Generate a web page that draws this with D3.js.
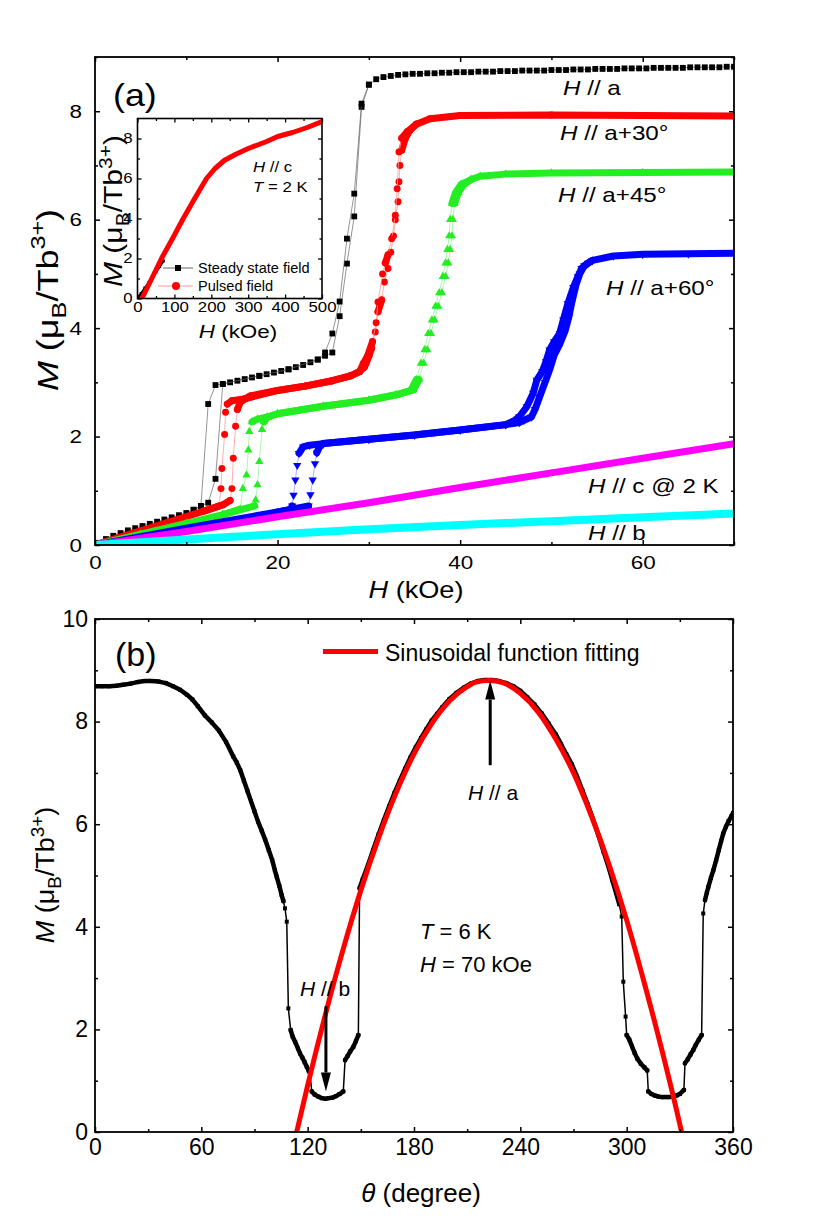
<!DOCTYPE html>
<html>
<head>
<meta charset="utf-8">
<script src="https://cdn.jsdelivr.net/npm/d3@7"></script>
<style>
  body { margin: 0; background: #fff; }
  svg { display: block; font-family: "Liberation Sans", Arial, Helvetica, sans-serif; }
</style>
</head>
<body>
<svg id="chart" width="830" height="1220"></svg>
<script>
// ---------- panel (a): M(H) sweeps, [H (kOe), M (muB/Tb3+)]
// H // a, field up (black squares)
const aUp = [
  [0,0],[0.4,0.04],[1.2,0.11],[2.0,0.17],[2.8,0.22],[3.6,0.27],[4.4,0.31],[5.2,0.35],[6.0,0.39],[6.8,0.43],
  [7.6,0.47],[8.4,0.51],[9.2,0.55],[10.0,0.59],[10.8,0.65],[11.6,0.72],[12.4,0.78],[13.2,1.22],[14.0,2.97],[14.8,3.0],
  [15.6,3.03],[16.4,3.06],[17.2,3.09],[18.0,3.12],[18.8,3.15],[19.6,3.18],[20.4,3.21],[21.2,3.24],[22.0,3.28],[22.8,3.32],
  [23.6,3.37],[24.4,3.42],[25.2,3.49],[26.0,3.55],[26.8,4.22],[27.6,5.19],[28.4,6.06],[29.2,8.08],[30.0,8.49],[30.8,8.59],
  [31.6,8.63],[32.4,8.65],[33.2,8.67],[34.0,8.68],[34.8,8.69],[35.6,8.69],[36.4,8.70],[37.2,8.70],[38.0,8.71],[38.8,8.71],
  [39.6,8.72],[40.4,8.72],[41.2,8.72],[42.0,8.73],[42.8,8.73],[43.6,8.73],[44.4,8.74],[45.2,8.74],[46.0,8.74],[46.8,8.75],
  [47.6,8.75],[48.4,8.75],[49.2,8.75],[50.0,8.76],[50.8,8.76],[51.6,8.76],[52.4,8.77],[53.2,8.77],[54.0,8.77],[54.8,8.78],
  [55.6,8.78],[56.4,8.78],[57.2,8.78],[58.0,8.79],[58.8,8.79],[59.6,8.79],[60.4,8.79],[61.2,8.80],[62.0,8.80],[62.8,8.80],
  [63.6,8.80],[64.4,8.80],[65.2,8.81],[66.0,8.81],[66.8,8.81],[67.6,8.81],[68.4,8.81],[69.2,8.82],[70.0,8.82]
];
// H // a, field down (only the hysteresis part differs)
const aDown = [
  [10.8,0.65],[11.6,0.72],[12.4,2.6],[13.2,2.95],[14.0,2.97],[18.0,3.12],[21.2,3.24],[24.4,3.42],[25.2,3.55],
  [26.0,3.9],[26.8,4.49],[27.6,5.65],[28.4,6.48],[29.2,8.14],[30.0,8.49]
];
// H // a+30 deg (red circles)
const a30Up = [
  [0,0],[4,0.21],[8,0.42],[12,0.63],[14.0,0.74],[14.8,0.82],[15.0,1.04],[15.15,1.6],[15.4,2.19],[15.6,2.5],
  [15.9,2.63],[16.5,2.7],[17,2.75],[20,2.85],[23,2.93],[26,3.03],[28,3.12],[29,3.2],[29.5,3.28],[29.7,3.35],
  [30.0,3.48],[30.3,3.63],[30.7,3.93],[31.0,4.3],[31.4,4.52],[31.7,4.85],[32.1,5.1],[32.4,5.4],[32.7,5.7],[32.9,6.0],
  [33.2,6.33],[33.3,6.7],[33.4,7.0],[33.6,7.28],[34.0,7.5],[34.5,7.65],[35.2,7.76],[36.7,7.86],[40,7.92],[50,7.93],
  [60,7.92],[70,7.91]
];
const a30Down = [
  [12,0.63],[13.6,0.72],[13.8,1.04],[13.9,1.41],[14.2,2.04],[14.3,2.45],[14.5,2.6],[15.0,2.66],[16.5,2.7],[20,2.85],
  [23,2.93],[26,3.03],[28,3.12],[29,3.2],[29.4,3.35],[29.9,3.5],[30.4,3.75],[30.8,4.1],[31.0,4.48],[31.5,5.0],
  [31.8,5.2],[32.1,5.35],[32.5,5.65],[32.9,6.08],[33.1,6.57],[33.3,7.25],[33.6,7.5],[34.2,7.62],[35.2,7.76]
];
// H // a+45 deg (green triangles)
const a45Up = [
  [0,0],[5,0.2],[10,0.4],[14,0.56],[17.5,0.72],[17.6,0.83],[17.8,1.11],[18.0,1.54],[18.3,2.13],[18.5,2.27],
  [18.9,2.36],[20,2.42],[25,2.56],[30,2.67],[33,2.77],[34.9,2.86],[35.5,3.05],[36.0,3.35],[36.4,3.6],[36.8,3.9],
  [37.2,4.15],[37.6,4.4],[38.0,4.65],[38.4,4.95],[38.7,5.2],[38.9,5.45],[39.1,5.7],[39.2,6.0],[39.4,6.3],[39.8,6.5],
  [40.4,6.65],[41.2,6.74],[42.2,6.8],[45,6.84],[50,6.86],[60,6.87],[70,6.88]
];
const a45Down = [
  [14,0.56],[15.9,0.66],[16.2,1.04],[16.6,1.29],[16.8,1.75],[16.9,2.09],[17.2,2.27],[17.8,2.32],[18.9,2.36],[20,2.42],
  [25,2.56],[30,2.67],[33,2.77],[34.6,2.85],[35.2,3.05],[35.7,3.35],[36.1,3.6],[36.5,3.9],[36.9,4.15],[37.3,4.4],
  [37.7,4.65],[38.1,4.95],[38.4,5.2],[38.6,5.45],[38.8,5.7],[38.9,6.0],[39.1,6.3],[39.5,6.5],[40.1,6.65],[41.2,6.74]
];
// H // a+60 deg (blue down-triangles)
const a60Up = [
  [0,0],[10,0.31],[20,0.61],[23.4,0.72],[23.6,0.93],[23.85,1.2],[24.1,1.5],[24.3,1.7],[24.6,1.81],[25.0,1.87],
  [30,1.95],[35,2.03],[40,2.12],[45,2.22],[46.5,2.26],[47.0,2.3],[47.8,2.36],[48.2,2.5],[48.7,2.73],[49.3,3.0],
  [49.8,3.23],[50.3,3.5],[50.9,3.7],[51.5,3.95],[51.9,4.2],[52.2,4.45],[52.7,4.8],[53.1,5.0],[53.6,5.15],[54.5,5.25],
  [56.8,5.33],[60,5.36],[65,5.37],[70,5.38]
];
const a60Down = [
  [20,0.61],[21.4,0.65],[21.6,0.72],[21.75,0.92],[21.95,1.2],[22.15,1.47],[22.35,1.69],[22.8,1.81],[23.5,1.84],[25,1.87],
  [30,1.95],[35,2.03],[40,2.12],[45,2.22],[46.0,2.3],[46.5,2.37],[47.3,2.55],[48.0,2.8],[48.4,3.04],[49.0,3.2],
  [49.4,3.38],[49.8,3.6],[50.3,3.75],[50.9,3.9],[51.3,4.15],[51.8,4.45],[52.4,4.75],[52.9,4.95],[53.3,5.1],[54,5.2],
  [54.5,5.25]
];
// H // c at 2 K (magenta) and H // b (cyan)
const cAxis = [[0,0],[10,0.25],[20,0.52],[30,0.78],[40,1.06],[50,1.33],[60,1.6],[70,1.87]];
const bAxis = [[0,0],[10,0.1],[20,0.2],[30,0.29],[40,0.37],[50,0.44],[60,0.51],[70,0.58]];
// inset: pulsed field, H // c, T = 2 K
const pulsed = [
  [12,0],[40,1.05],[65,2.0],[95,3.0],[124,4.0],[155,5.0],[187,6.0],[210,6.5],[235,6.9],[265,7.2],
  [300,7.5],[350,7.85],[380,8.1],[420,8.3],[460,8.55],[500,8.85]
];

// ---------- panel (b): M(theta) at 70 kOe, [theta (deg), M]
const rotM = [
  [0,8.69],[4,8.69],[8,8.69],[12,8.70],[16,8.72],[20,8.74],[24,8.77],[28,8.79],[32,8.79],[36,8.78],
  [40,8.75],[44,8.69],[48,8.62],[52,8.52],[55,8.43],[58,8.3],[62,8.12],[66,7.98],[70,7.82],[74,7.6],
  [78,7.32],[80,7.2],[82,7.05],[84,6.85],[86,6.65],[88,6.45],[90,6.25],[92,6.05],[94,5.88],[96,5.7],
  [98,5.5],[100,5.3],[101.5,5.1],[102.5,4.98],[104,4.8],[105.3,4.62],[106.3,4.5],[107.2,4.36],[108.2,4.1],[109.1,2.41],
  [110.4,1.99],[111.5,1.86],[113,1.75],[114.5,1.63],[115.7,1.53],[117,1.45],[118.3,1.36],[119.5,1.27],[120.5,1.2],[121.3,1.14],
  [122.3,0.79],[124,0.73],[126,0.69],[128,0.66],[130,0.65],[132,0.66],[134,0.67],[136,0.7],[138,0.74],[140.1,0.79],
  [141.1,1.4],[142.5,1.48],[144,1.57],[145.8,1.66],[147.2,1.77],[148.6,1.89],[149.3,4.75],[151,4.92],[154,5.2],[157,5.5],
  [160,5.8],[163,6.08],[166,6.35],[169,6.61],[172,6.85],[175,7.08],[178,7.3],[181,7.5],[184,7.68],[187,7.85],
  [190,8.02],[193,8.15],[196,8.28],[200,8.44],[204,8.56],[208,8.66],[212,8.74],[216,8.79],[220,8.81],[224,8.81],
  [228,8.79],[232,8.75],[236,8.69],[240,8.6],[244,8.47],[248,8.33],[252,8.16],[256,7.96],[260,7.75],[263,7.56],
  [266,7.36],[269,7.17],[272,6.93],[275,6.66],[278,6.39],[281,6.1],[284,5.79],[287,5.46],[290,5.14],[292,4.9],
  [294,4.66],[295.8,4.44],[297.2,4.2],[298.1,2.93],[299.4,2.25],[300,1.89],[301.5,1.8],[303,1.67],[304.5,1.54],[306,1.43],
  [308,1.33],[310,1.26],[311.6,1.2],[312.2,0.79],[314,0.74],[316,0.71],[318,0.69],[320,0.68],[322,0.68],[324,0.68],
  [326,0.69],[328,0.71],[330,0.74],[332.3,0.82],[332.9,1.34],[334.5,1.42],[336,1.51],[337.6,1.6],[339,1.7],[340.7,1.8],
  [342.3,1.89],[343.2,4.26],[344.2,4.52],[345.2,4.66],[346.1,4.78],[347.5,4.95],[348.9,5.1],[350.5,5.3],[352,5.5],[353.3,5.67],
  [354.5,5.82],[356,5.95],[357.5,6.06],[359,6.15],[360,6.22]
];
// sinusoidal fit (red)
const rotFit = [
  [112.5,-0.2],[113.8,0],[120,0.91],[130,2.29],[140,3.56],[150,4.71],[160,5.73],[170,6.62],[180,7.37],[190,7.96],
  [200,8.4],[210,8.68],[215,8.77],[222.4,8.8],[230,8.76],[240,8.55],[250,8.19],[260,7.66],[270,7.0],[280,6.17],
  [290,5.22],[300,4.13],[310,2.9],[320,1.58],[330,0.15],[332.3,-0.2]
];

// ticks
const aTicksX = [0, 20, 40, 60], aMinorX = [10, 30, 50, 70];
const aTicksY = [0, 2, 4, 6, 8], aMinorY = [1, 3, 5, 7, 9];
const iTicksX = [0, 100, 200, 300, 400, 500], iMinorX = [50, 150, 250, 350, 450];
const iTicksY = [0, 2, 4, 6, 8], iMinorY = [1, 3, 5, 7];
const bTicksX = [0, 60, 120, 180, 240, 300, 360], bMinorX = [30, 90, 150, 210, 270, 330];
const bTicksY = [0, 2, 4, 6, 8, 10], bMinorY = [1, 3, 5, 7, 9];

const svg = d3.select("#chart");
const SX = 1.18; // panel (a) lettering is wider than Arial

// frame + inward ticks on all four sides
function axes(g, x, y, o) {
  const [xl, xr] = x.range(), [yb, yt] = y.range();
  const mk = (axis, tr, vals, len, show) => {
    const a = g.append("g").attr("transform", tr)
      .call(axis.tickValues(vals).tickSize(-len).tickPadding(o.pad)
        .tickFormat(show ? d3.format("d") : ""));
    a.attr("font-size", o.fs).attr("font-family", null);
    a.select(".domain").remove();
    a.selectAll(".tick line").attr("stroke-width", o.tw);
    a.selectAll(".tick text").attr("fill", "#000").attr("transform", `scale(${o.sx},1)`);
  };
  mk(d3.axisBottom(x), `translate(0,${yb})`, o.xt, o.major, true);
  mk(d3.axisBottom(x), `translate(0,${yb})`, o.xm, o.minor, false);
  mk(d3.axisTop(x), `translate(0,${yt})`, o.xt, o.major, false);
  mk(d3.axisTop(x), `translate(0,${yt})`, o.xm, o.minor, false);
  mk(d3.axisLeft(y), `translate(${xl},0)`, o.yt, o.major, true);
  mk(d3.axisLeft(y), `translate(${xl},0)`, o.ym, o.minor, false);
  mk(d3.axisRight(y), `translate(${xr},0)`, o.yt, o.major, false);
  mk(d3.axisRight(y), `translate(${xr},0)`, o.ym, o.minor, false);
  g.append("rect")
    .attr("x", xl).attr("y", yt).attr("width", xr - xl).attr("height", yb - yt)
    .attr("fill", "none").attr("stroke", "#000").attr("stroke-width", o.sw);
}

// text with italic / sub / superscript parts; sx stretches along the text
function rich(g, x, y, parts, o) {
  const fs = o.fs;
  const t = g.append("text")
    .attr("transform", `translate(${x},${y})` + (o.rot ? ` rotate(${o.rot})` : "") + ` scale(${o.sx || 1},1)`)
    .attr("font-size", fs).attr("text-anchor", o.anchor || "start").attr("fill", "#000");
  let shift = 0;
  parts.forEach(([s, k]) => {
    const to = k === "sub" ? fs * 0.28 : k === "sup" ? -fs * 0.42 : 0;
    t.append("tspan").text(s).attr("dy", to - shift)
      .attr("font-size", k === "sub" || k === "sup" ? fs * 0.7 : null)
      .attr("font-style", k === "i" ? "italic" : null);
    shift = to;
  });
  return t;
}

// one field sweep: thin link line, solid band where dense markers merge, markers
function sweep(g, x, y, pts, o) {
  const line = d3.line().x(d => x(d[0])).y(d => y(d[1]));
  if (o.link) g.append("path").attr("d", line(pts))
    .attr("fill", "none").attr("stroke", o.link).attr("stroke-width", o.lw || 0.8);
  if (o.band) {
    const flat = d3.pairs(pts).filter(([p, q]) =>
      Math.abs(y(q[1]) - y(p[1])) < o.band * Math.abs(x(q[0]) - x(p[0])));
    g.append("path").attr("d", flat.map(s => line(s)).join(""))
      .attr("fill", "none").attr("stroke", o.color).attr("stroke-width", o.bw)
      .attr("stroke-linecap", "round");
  }
  if (o.symbol) g.append("g").selectAll("path").data(pts).join("path")
    .attr("transform", d => `translate(${x(d[0])},${y(d[1])})` + (o.flip ? " rotate(180)" : ""))
    .attr("d", d3.symbol(o.symbol, o.area)())
    .attr("fill", o.color);
}

const M_LABEL = [["M", "i"], [" (μ"], ["B", "sub"], ["/Tb"], ["3+", "sup"], [")"]];

// ================= panel (a)
const xa = d3.scaleLinear().domain([0, 70]).range([95, 734]);
const ya = d3.scaleLinear().domain([0, 9]).range([545, 57]);
const ga = svg.append("g");
ga.append("clipPath").attr("id", "clipA").append("rect")
  .attr("x", 95).attr("y", 57).attr("width", 639).attr("height", 488);
const da = ga.append("g").attr("clip-path", "url(#clipA)");

sweep(da, xa, ya, aUp, { color: "#000", link: "#666", lw: 0.7, symbol: d3.symbolSquare, area: 34 });
sweep(da, xa, ya, aDown, { color: "#000", link: "#666", lw: 0.7, symbol: d3.symbolSquare, area: 34 });
[a30Up, a30Down].forEach(p => sweep(da, xa, ya, p,
  { color: "#ff0000", link: "#ff9a9a", band: 3.5, bw: 7, symbol: d3.symbolCircle, area: 38 }));
[a45Up, a45Down].forEach(p => sweep(da, xa, ya, p,
  { color: "#22ee22", link: "#9af29a", band: 3.5, bw: 7, symbol: d3.symbolTriangle, area: 30 }));
[a60Up, a60Down].forEach(p => sweep(da, xa, ya, p,
  { color: "#0000ff", link: "#9a9aff", band: 5, bw: 7, symbol: d3.symbolTriangle, area: 30, flip: true }));
sweep(da, xa, ya, cAxis, { color: "#ff00ff", band: 1e9, bw: 7 });
sweep(da, xa, ya, bAxis, { color: "#00ffff", band: 1e9, bw: 8 });

axes(ga, xa, ya, { xt: aTicksX, xm: aMinorX, yt: aTicksY, ym: aMinorY,
  major: 5, minor: 3, tw: 1.5, sw: 1.8, fs: 19, pad: 11, sx: SX });

rich(ga, 113, 106, [["(a)"]], { fs: 32, sx: 1.12 });
const annA = [
  [563, 95, " // a"], [560, 140, " // a+30°"], [558, 202, " // a+45°"],
  [606, 295, " // a+60°"], [588, 493, " // c @ 2 K"], [588, 540, " // b"]
];
annA.forEach(([x, y, s]) => rich(ga, x, y, [["H", "i"], [s]], { fs: 20.5, sx: SX }));
rich(ga, 416, 598, [["H", "i"], [" (kOe)"]], { fs: 23, sx: SX, anchor: "middle" });
rich(ga, 58, 300, M_LABEL, { fs: 30, sx: 1.2, rot: -90, anchor: "middle" });

// ---- inset
const xi = d3.scaleLinear().domain([0, 500]).range([137.5, 322]);
const yi = d3.scaleLinear().domain([0, 9]).range([298.5, 118.5]);
const gi = svg.append("g");
gi.append("rect").attr("x", 137.5).attr("y", 118.5).attr("width", 184.5).attr("height", 180).attr("fill", "#fff");
gi.append("clipPath").attr("id", "clipI").append("rect")
  .attr("x", 137.5).attr("y", 118.5).attr("width", 184.5).attr("height", 180);
const di = gi.append("g").attr("clip-path", "url(#clipI)");
sweep(di, xi, yi, cAxis, { color: "#000", link: "#000", lw: 2.5, symbol: d3.symbolSquare, area: 9 });
di.append("path").datum(pulsed)
  .attr("d", d3.line().x(d => xi(d[0])).y(d => yi(d[1])))
  .attr("fill", "none").attr("stroke", "#ff0000").attr("stroke-width", 5)
  .attr("stroke-linejoin", "round");
axes(gi, xi, yi, { xt: iTicksX, xm: iMinorX, yt: iTicksY, ym: iMinorY,
  major: 4, minor: 2.5, tw: 1.3, sw: 1.6, fs: 14, pad: 4, sx: 1.2 });
rich(gi, 253, 172, [["H", "i"], [" // c"]], { fs: 14, sx: 1.2 });
rich(gi, 253, 192, [["T", "i"], [" = 2 K"]], { fs: 14, sx: 1.2 });
// legend
gi.append("line").attr("x1", 163).attr("x2", 193).attr("y1", 268).attr("y2", 268).attr("stroke", "#666");
gi.append("path").attr("transform", "translate(178,268)").attr("d", d3.symbol(d3.symbolSquare, 36)());
gi.append("line").attr("x1", 158).attr("x2", 193).attr("y1", 286).attr("y2", 286).attr("stroke", "#ff9a9a");
gi.append("circle").attr("cx", 176).attr("cy", 286).attr("r", 4).attr("fill", "#ff0000");
rich(gi, 198, 273, [["Steady state field"]], { fs: 14, sx: 1.04 });
rich(gi, 198, 291, [["Pulsed field"]], { fs: 14, sx: 1.04 });
rich(gi, 122, 211, M_LABEL, { fs: 25, sx: 1.2, rot: -90, anchor: "middle" });
rich(gi, 238, 338, [["H", "i"], [" (kOe)"]], { fs: 19, sx: SX, anchor: "middle" });

// ================= panel (b)
const xb = d3.scaleLinear().domain([0, 360]).range([95, 733]);
const yb = d3.scaleLinear().domain([0, 10]).range([1132, 619]);
const gb = svg.append("g");
gb.append("clipPath").attr("id", "clipB").append("rect")
  .attr("x", 95).attr("y", 619).attr("width", 638).attr("height", 513);
const db = gb.append("g").attr("clip-path", "url(#clipB)");

sweep(db, xb, yb, rotM, { color: "#000", link: "#000", lw: 1.5, band: 4.5, bw: 4.5,
  symbol: d3.symbolSquare, area: 16 });

rich(gb, 420, 939, [["T", "i"], [" = 6 K"]], { fs: 22 });
rich(gb, 420, 972, [["H", "i"], [" = 70 kOe"]], { fs: 22 });
rich(gb, 468, 800, [["H", "i"], [" // a"]], { fs: 21 });
rich(gb, 300, 996, [["H", "i"], [" // b"]], { fs: 21 });

db.append("path").datum(rotFit)
  .attr("d", d3.line().curve(d3.curveMonotoneX).x(d => xb(d[0])).y(d => yb(d[1])))
  .attr("fill", "none").attr("stroke", "#ff0000").attr("stroke-width", 5);

// arrows pointing at H // a and H // b
function arrow(g, x0, y0, y1) {
  const dir = Math.sign(y1 - y0), head = 19;
  g.append("line").attr("x1", x0).attr("x2", x0).attr("y1", y0).attr("y2", y1 - dir * head)
    .attr("stroke", "#000").attr("stroke-width", 3);
  g.append("path").attr("d", `M${x0},${y1}L${x0 - 5},${y1 - dir * head}L${x0 + 5},${y1 - dir * head}Z`)
    .attr("fill", "#000");
}
arrow(gb, xb(223), yb(7.15), yb(8.8));
arrow(gb, xb(130.3), yb(2.45), yb(0.79));

axes(gb, xb, yb, { xt: bTicksX, xm: bMinorX, yt: bTicksY, ym: bMinorY,
  major: 5, minor: 3, tw: 1.5, sw: 1.8, fs: 23, pad: 7, sx: 1 });

rich(gb, 115, 666, [["(b)"]], { fs: 34 });
gb.append("line").attr("x1", 323).attr("x2", 378).attr("y1", 651.5).attr("y2", 651.5)
  .attr("stroke", "#ff0000").attr("stroke-width", 5);
rich(gb, 385, 661, [["Sinusoidal function fitting"]], { fs: 23 });
rich(gb, 421, 1202, [["θ", "i"], [" (degree)"]], { fs: 26, anchor: "middle" });
rich(gb, 54, 875, M_LABEL, { fs: 25, sx: 1.08, rot: -90, anchor: "middle" });
</script>
</body>
</html>
